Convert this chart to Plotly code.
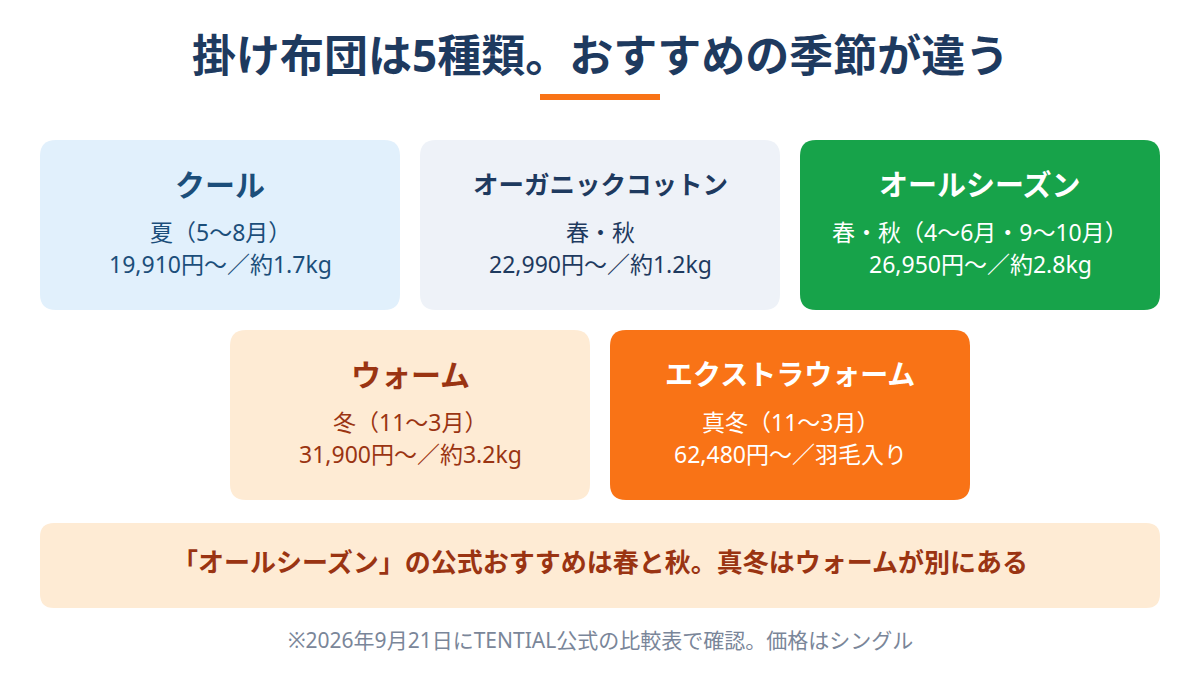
import plotly.graph_objects as go

# card data
names = ["クール", "オーガニックコットン", "オールシーズン", "ウォーム", "エクストラウォーム"]
seasons = ["夏（5〜8月）", "春・秋", "春・秋（4〜6月・9〜10月）", "冬（11〜3月）", "真冬（11〜3月）"]
details = ["19,910円〜／約1.7kg", "22,990円〜／約1.2kg", "26,950円〜／約2.8kg",
           "31,900円〜／約3.2kg", "62,480円〜／羽毛入り"]
title_text = "掛け布団は5種類。おすすめの季節が違う"
banner_text = "「オールシーズン」の公式おすすめは春と秋。真冬はウォームが別にある"
note_text = "※2026年9月21日にTENTIAL公式の比較表で確認。価格はシングル"

# layout (pixel coordinates)
boxes = [(40, 140), (420, 140), (800, 140), (230, 330), (610, 330)]
card_w, card_h = 360, 170
bg = ["#E1F0FC", "#EEF2F8", "#17A34A", "#FEEBD4", "#F97316"]
head_col = ["#1B4E7A", "#1E3A5F", "#FFFFFF", "#9A3412", "#FFFFFF"]
body_col = ["#1B4E7A", "#1E3A5F", "#FFFFFF", "#9A3412", "#FFFFFF"]
head_size = [30, 25.5, 29, 30, 28]

FONT = "Noto Sans, Noto Sans CJK JP"
OFF = 8  # page body margin

def rrect(x0, y0, x1, y1, r):
    return (f"M{x0+r},{y0} L{x1-r},{y0} Q{x1},{y0} {x1},{y0+r} L{x1},{y1-r} Q{x1},{y1} {x1-r},{y1} "
            f"L{x0+r},{y1} Q{x0},{y1} {x0},{y1-r} L{x0},{y0+r} Q{x0},{y0} {x0+r},{y0} Z")

fig = go.Figure()
shapes, ann = [], []

ann.append(dict(x=600, y=55, text=f"<b>{title_text}</b>", font=dict(size=44, color="#1E3A5F")))
shapes.append(dict(type="rect", x0=540, x1=660, y0=94, y1=100, fillcolor="#F97316", line_width=0))

for i, (x, y) in enumerate(boxes):
    shapes.append(dict(type="path", path=rrect(x, y, x + card_w, y + card_h, 16),
                       fillcolor=bg[i], line_width=0, layer="below"))
    cx = x + card_w / 2
    ann.append(dict(x=cx, y=y + 44, text=f"<b>{names[i]}</b>",
                    font=dict(size=head_size[i], color=head_col[i])))
    ann.append(dict(x=cx, y=y + 92, text=seasons[i], font=dict(size=23, color=body_col[i])))
    ann.append(dict(x=cx, y=y + 124, text=details[i], font=dict(size=23, color=body_col[i])))

shapes.append(dict(type="path", path=rrect(40, 523, 1160, 608, 14),
                   fillcolor="#FEEBD4", line_width=0, layer="below"))
ann.append(dict(x=600, y=562, text=f"<b>{banner_text}</b>", font=dict(size=26, color="#9A3412")))
ann.append(dict(x=600, y=640, text=note_text, font=dict(size=21, color="#7A8699")))

for a in ann:
    a.update(xref="x", yref="y", showarrow=False, xanchor="center", yanchor="middle")

fig.update_layout(
    width=1200, height=700, margin=dict(l=0, r=0, t=0, b=0),
    paper_bgcolor="white", plot_bgcolor="white",
    font=dict(family=FONT),
    xaxis=dict(range=[OFF, 1200 + OFF], visible=False, fixedrange=True),
    yaxis=dict(range=[700 + OFF, OFF], visible=False, fixedrange=True),
    shapes=shapes, annotations=ann, showlegend=False,
)
fig.write_html("out.html", config={"displayModeBar": False})
